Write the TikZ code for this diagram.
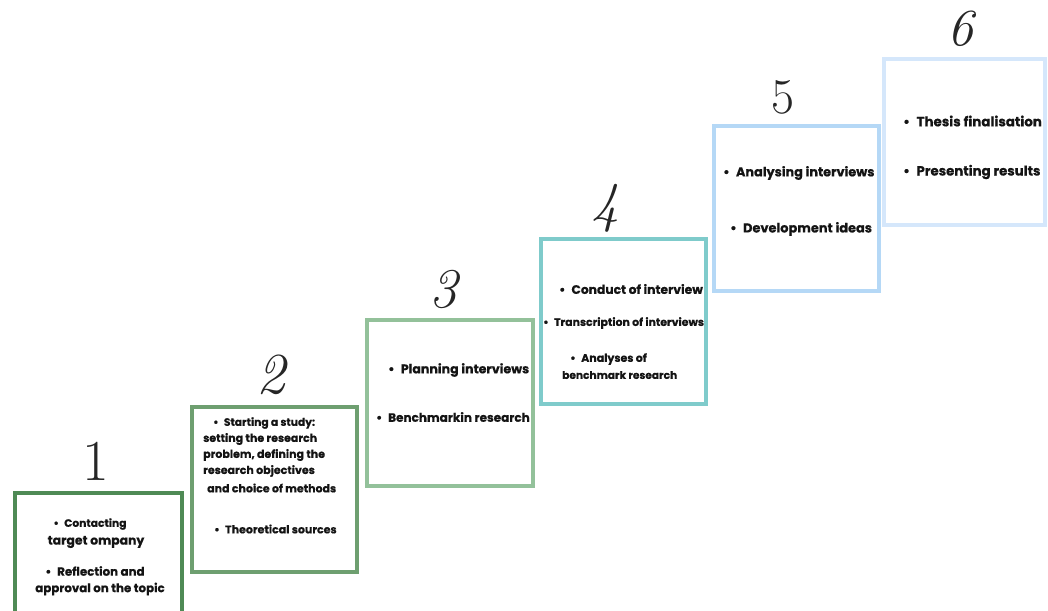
\documentclass[tikz,border=0pt]{standalone}
\usepackage{fontspec}
\setmainfont{Poppins}[BoldFeatures={FakeBold=0.6}]
\newfontfamily\digitfont{Latin Modern Roman}
\definecolor{stepA}{HTML}{4F8A55}
\definecolor{stepB}{HTML}{6E9F70}
\definecolor{stepC}{HTML}{93C19A}
\definecolor{stepD}{HTML}{7FCBCB}
\definecolor{stepE}{HTML}{B5D8F6}
\definecolor{stepF}{HTML}{D5E7FB}
% bullet followed by a wider gap
\newcommand{\bul}{•\hspace{0.5em}}
\begin{document}
\begin{tikzpicture}[x=1pt,y=-1pt,
  stepbox/.style={draw=#1, line width=3.6pt, fill=white, inner sep=0pt},
  item/.style={font=\bfseries\fontsize{#1}{#1}\selectfont, inner sep=0pt, text=black!92},
  digit/.style={font=\digitfont\fontsize{#1}{#1}\selectfont, inner sep=0pt, text=black!85},
  idigit/.style={font=\digitfont\itshape\fontsize{#1}{#1}\selectfont, inner sep=0pt, text=black!85}]
\useasboundingbox (0,0) rectangle (1048,610);
\clip (0,0) rectangle (1048,610);
\fill[white] (0,0) rectangle (1048,610);

% staircase of step boxes
\node[stepbox=stepA, minimum width=167pt, minimum height=146pt] (s1) at (98.5,566) {};
\node[stepbox=stepB, minimum width=165pt, minimum height=165pt] (s2) at (274.5,489.5) {};
\node[stepbox=stepC, minimum width=166pt, minimum height=166pt] (s3) at (450,403) {};
\node[stepbox=stepD, minimum width=165pt, minimum height=165pt] (s4) at (623.5,321.5) {};
\node[stepbox=stepE, minimum width=165pt, minimum height=165pt] (s5) at (796.5,208.5) {};
\node[stepbox=stepF, minimum width=161pt, minimum height=166pt] (s6) at (964.5,142) {};

% step numbers
\node[digit=58] (n1) at (96,461) {1};
\node[idigit=58] (n2) at (271,375) {2};
\node[idigit=56] (n3) at (443,289) {3};
\node[idigit=56] (n4) at (605,208) {4};
\node[digit=50] (n5) at (783,97) {5};
\node[idigit=52] (n6) at (960,29) {6};

% step 1
\node[item=10.7] (t1a) at (90,524) {\bul Contacting};
\node[item=12.4] (t1b) at (96,542) {target ompany};
\node[item=11.8] (t1c) at (95,571) {\bul Reflection and};
\node[item=11.8] (t1d) at (100,589) {approval on the topic};

% step 2
\node[item=10.7, anchor=west] (t2a) at (213,423) {\bul Starting a study:};
\node[item=11, anchor=west] (t2b) at (203,439) {setting the research};
\node[item=11, anchor=west] (t2c) at (203,455) {problem, defining the};
\node[item=11, anchor=west] (t2d) at (203,471) {research objectives};
\node[item=11, anchor=west] (t2e) at (207,488) {and choice of methods};
\node[item=11, anchor=west] (t2f) at (214,529) {\bul Theoretical sources};

% step 3
\node[item=12.6, anchor=west] (t3a) at (388,370) {\bul Planning interviews};
\node[item=12, anchor=west] (t3b) at (376,417) {\bul Benchmarkin research};

% step 4
\node[item=12.3, anchor=west] (t4a) at (559,289) {\bul Conduct of interview};
\node[item=10.9, anchor=west] (t4b) at (543,323) {\bul Transcription of interviews};
\node[item=11, anchor=west] (t4c) at (570,359) {\bul Analyses of};
\node[item=10.6, anchor=west] (t4d) at (562,375) {benchmark research};

% step 5
\node[item=12.8, anchor=west] (t5a) at (723,173) {\bul Analysing interviews};
\node[item=12.9, anchor=west] (t5b) at (730,229) {\bul Development ideas};

% step 6
\node[item=13.4, anchor=west] (t6a) at (903,121) {\bul Thesis finalisation};
\node[item=13.3, anchor=west] (t6b) at (903,172) {\bul Presenting results};
\end{tikzpicture}
\end{document}
